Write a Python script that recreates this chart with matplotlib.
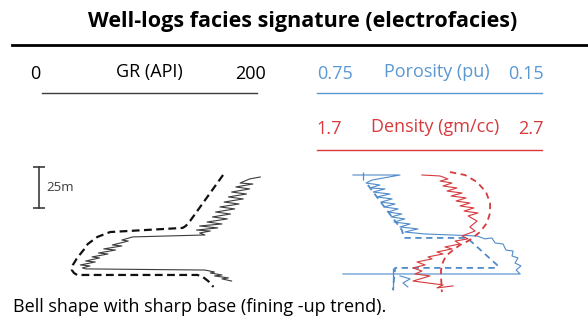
import matplotlib
matplotlib.use("Agg")
import matplotlib.pyplot as plt
from matplotlib.lines import Line2D
from matplotlib.transforms import blended_transform_factory

plt.rcParams['font.family'] = ['Open Sans', 'DejaVu Sans']

# gamma ray log (API) vs depth (m)
gr_val = [205, 195, 186, 198, 182, 195, 178, 192, 175, 189, 171, 185, 167, 181,
          163, 177, 160, 174, 155, 169, 148, 165, 145, 158, 148, 153, 85, 75, 81,
          66, 75, 58, 69, 53, 62, 47, 54, 41, 50, 36, 45, 38, 41, 153, 162, 158,
          169, 162, 175, 169, 178]
gr_depth = [7.3, 8.5, 11.0, 11.6, 13.4, 14.6, 16.5, 17.7, 19.5, 20.7, 22.6, 23.8,
            25.6, 26.8, 28.7, 29.9, 31.7, 32.9, 34.8, 36.0, 37.2, 38.4, 39.7, 40.3,
            41.5, 42.7, 43.9, 45.8, 46.4, 48.8, 49.4, 51.2, 51.9, 53.7, 54.3, 56.1,
            56.7, 58.6, 59.2, 61.0, 61.6, 62.8, 63.4, 64.1, 65.3, 65.9, 67.1, 67.7,
            68.9, 69.5, 70.8]
gr_trend = [170, 139, 135, 132, 64, 52, 43, 39, 33, 29, 28, 30, 33, 146, 151, 156, 161]
gr_trend_depth = [6.1, 34.2, 37.2, 38.4, 40.9, 43.9, 48.2, 51.9, 56.7, 61.0, 64.1,
                  65.9, 67.1, 67.1, 68.3, 70.8, 74.4]

# porosity log (pu)
phi_val = [0.651, 0.525, 0.600, 0.616, 0.579, 0.605, 0.565, 0.597, 0.552, 0.587,
           0.546, 0.576, 0.538, 0.568, 0.530, 0.557, 0.520, 0.549, 0.512, 0.541,
           0.498, 0.525, 0.477, 0.512, 0.458, 0.319, 0.297, 0.279, 0.270, 0.249,
           0.241, 0.222, 0.225, 0.209, 0.217, 0.201, 0.214, 0.203, 0.678]
phi_depth = [6.1, 6.1, 9.2, 11.0, 12.2, 14.0, 14.6, 16.5, 17.7, 19.5, 20.7, 22.6,
             23.8, 25.6, 26.8, 28.7, 29.9, 31.7, 32.9, 34.8, 36.0, 37.8, 39.0, 40.9,
             42.1, 43.3, 45.1, 44.5, 47.6, 48.2, 51.9, 52.5, 55.5, 56.7, 59.8, 61.6,
             64.1, 66.5, 66.5]
phi_tail = [0.525, 0.498, 0.517, 0.504]
phi_tail_depth = [67.7, 69.5, 72.0, 74.4]
phi_ticks = [0.624, 0.544]
phi_tick_top = [4.3, 62.8]
phi_tick_base = [9.2, 76.3]
phi_trend = [0.611, 0.520, 0.514, 0.345, 0.265, 0.265, 0.538, 0.544]
phi_trend_depth = [12.2, 39.7, 44.5, 44.5, 61.0, 62.8, 62.8, 76.3]

# bulk density log (gm/cc)
rho_val = [2.173, 2.254, 2.289, 2.254, 2.307, 2.267, 2.329, 2.285, 2.352, 2.303,
           2.370, 2.325, 2.387, 2.343, 2.405, 2.361, 2.423, 2.379, 2.419, 2.387,
           2.410, 2.352, 2.379, 2.321, 2.343, 2.276, 2.307, 2.240, 2.267, 2.200,
           2.218, 2.151, 2.187, 2.133, 2.173, 2.142, 2.209, 2.133, 2.267, 2.240,
           2.312]
rho_depth = [6.1, 6.7, 8.5, 9.8, 11.0, 12.8, 14.0, 15.9, 17.1, 18.9, 20.1, 22.0,
             23.2, 25.0, 26.2, 28.1, 29.3, 31.1, 34.2, 37.8, 40.3, 43.3, 45.1, 46.4,
             48.2, 50.0, 51.2, 53.1, 54.3, 56.1, 57.3, 59.2, 61.0, 62.8, 64.7, 66.5,
             67.7, 70.8, 73.2, 75.0, 73.8]
rho_trend = [2.298, 2.365, 2.419, 2.459, 2.477, 2.477, 2.463, 2.432, 2.387, 2.343,
             2.312, 2.280, 2.267, 2.258, 2.258, 2.262]
rho_trend_depth = [4.3, 6.1, 10.4, 16.5, 23.2, 29.3, 35.4, 40.9, 45.8, 48.8, 51.9,
                   55.5, 59.2, 64.1, 67.7, 77.5]

scale_top, scale_len = 1.2, 25

W, H = 588, 320
BLUE_TXT = '#5b97d1'
BLUE = '#4f8ccb'
RED = '#d63a3c'
GREY = '#3c3c3c'
FS = 13


def fx(x):
    return x / W


def fy(y):
    return 1 - y / H


def hline(x0, x1, y, color, lw):
    fig.add_artist(Line2D([fx(x0), fx(x1)], [fy(y), fy(y)], color=color, lw=lw,
                          transform=fig.transFigure))


fig = plt.figure(figsize=(W / 100, H / 100), dpi=100)

fig.text(fx(303), fy(21), 'Well-logs facies signature (electrofacies)',
         ha='center', va='center', fontsize=15.5, fontweight='bold')
hline(12, 588, 45, 'black', 2.0)

# track headers
fig.text(fx(35), fy(74), '0', ha='center', va='center', fontsize=FS)
fig.text(fx(149), fy(72), 'GR (API)', ha='center', va='center', fontsize=FS)
fig.text(fx(251), fy(74), '200', ha='center', va='center', fontsize=FS)
hline(42, 257, 93, GREY, 1.0)

fig.text(fx(335), fy(74), '0.75', ha='center', va='center', fontsize=FS, color=BLUE_TXT)
fig.text(fx(437), fy(72), 'Porosity (pu)', ha='center', va='center', fontsize=FS, color=BLUE_TXT)
fig.text(fx(526), fy(74), '0.15', ha='center', va='center', fontsize=FS, color=BLUE_TXT)
hline(317, 542, 93, BLUE_TXT, 1.0)

fig.text(fx(329), fy(129), '1.7', ha='center', va='center', fontsize=FS, color=RED)
fig.text(fx(435), fy(127), 'Density (gm/cc)', ha='center', va='center', fontsize=FS, color=RED)
fig.text(fx(531), fy(129), '2.7', ha='center', va='center', fontsize=FS, color=RED)
hline(317, 542, 150, RED, 1.0)

# GR track
ax_gr = fig.add_axes([fx(42), fy(292), (255 - 42) / W, (292 - 165) / H])
ax_gr.plot(gr_val, gr_depth, color=GREY, lw=0.8, clip_on=False)
ax_gr.plot(gr_trend, gr_trend_depth, color='#111111', lw=1.6, dashes=(3.5, 2),
           clip_on=False)
ax_gr.set_xlim(0, 200)
ax_gr.set_ylim(77.5, 0)

# depth scale bar
bar_tr = blended_transform_factory(fig.transFigure, ax_gr.transData)
ax_gr.plot([fx(39), fx(39)], [scale_top, scale_top + scale_len], color=GREY, lw=1.2,
           transform=bar_tr, clip_on=False)
ax_gr.plot([fx(39), fx(39)], [scale_top, scale_top + scale_len], ls='none',
           marker='_', ms=8, mew=1.2, color=GREY, transform=bar_tr, clip_on=False)
ax_gr.text(fx(46), scale_top + scale_len / 2, '25m', transform=bar_tr,
           ha='left', va='center', fontsize=9.5, color=GREY)

# porosity / density track
ax_phi = fig.add_axes([fx(316), fy(292), (540 - 316) / W, (292 - 165) / H])
ax_phi.plot(phi_val, phi_depth, color=BLUE, lw=0.8, clip_on=False)
ax_phi.plot(phi_tail, phi_tail_depth, color=BLUE, lw=0.8, clip_on=False)
ax_phi.vlines(phi_ticks, phi_tick_top, phi_tick_base, color=BLUE, lw=0.9)
ax_phi.plot(phi_trend, phi_trend_depth, color=BLUE, lw=1.3, dashes=(3.5, 2.5),
            clip_on=False)
ax_phi.set_xlim(0.75, 0.15)
ax_phi.set_ylim(77.5, 0)

ax_rho = ax_phi.twiny()
ax_rho.plot(rho_val, rho_depth, color=RED, lw=0.8, clip_on=False)
ax_rho.plot(rho_trend, rho_trend_depth, color=RED, lw=1.3, dashes=(3.5, 2.5),
            clip_on=False)
ax_rho.set_xlim(1.7, 2.7)
ax_rho.set_ylim(77.5, 0)

for ax in (ax_gr, ax_phi, ax_rho):
    ax.axis('off')

fig.text(fx(13), fy(307), 'Bell shape with sharp base (fining -up trend).',
         ha='left', va='center', fontsize=13)

fig.savefig('out.png', dpi=100)
